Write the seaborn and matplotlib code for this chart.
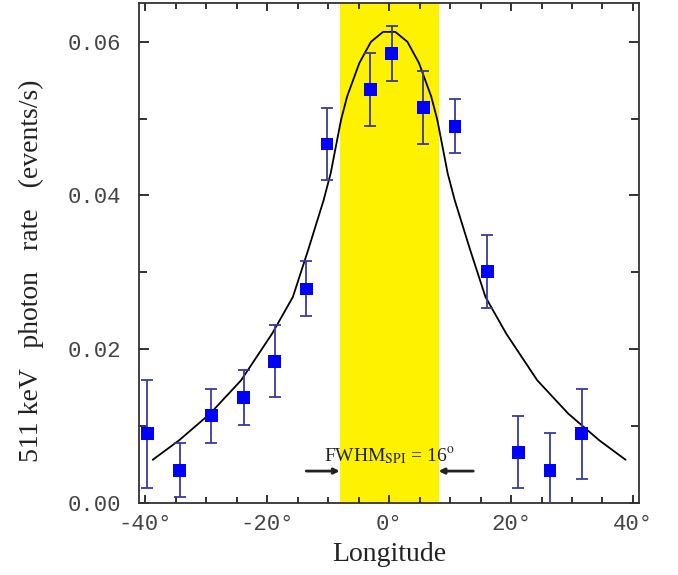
import numpy as np
import pandas as pd
import matplotlib
matplotlib.use('Agg')
import matplotlib.pyplot as plt
import seaborn as sns

# measured points (longitude in degrees, rate in events/s)
lon = [-39.7, -34.4, -29.2, -23.9, -18.8, -13.6, -10.2, -3.1, 0.4, 5.6, 10.8, 16.1, 21.2, 26.4, 31.6]
rate = [0.0090, 0.0042, 0.0113, 0.0137, 0.0184, 0.0278, 0.0467, 0.0538, 0.0585, 0.0514, 0.0490, 0.0301, 0.0065, 0.0042, 0.0090]
rate_lo = [0.0019, 0.0007, 0.0078, 0.0101, 0.0137, 0.0243, 0.0420, 0.0491, 0.0549, 0.0467, 0.0455, 0.0254, 0.0019, -0.0006, 0.0031]
rate_hi = [0.0160, 0.0078, 0.0148, 0.0172, 0.0231, 0.0314, 0.0514, 0.0585, 0.0621, 0.0562, 0.0526, 0.0349, 0.0113, 0.0090, 0.0148]

# model curve (it is symmetric about 0)
curve_lon = [-38.8, -34.5, -29.4, -24.3, -19.2, -15.8, -13.3, -10.75, -9.6, -7.9, -6.9, -4.9, -3.0, -1.0,
             1.0, 3.0, 4.9, 6.9, 7.9, 9.6, 10.75, 13.3, 15.8, 19.2, 24.3, 29.4, 34.5, 38.8]
curve_rate = [0.00557, 0.00809, 0.01157, 0.01592, 0.02201, 0.02678, 0.03288, 0.0394, 0.04288, 0.04984, 0.05288,
              0.05723, 0.0600, 0.0613, 0.0613, 0.0600, 0.05723, 0.05288, 0.04984, 0.04288, 0.0394, 0.03288,
              0.02678, 0.02201, 0.01592, 0.01157, 0.00809, 0.00557]

fwhm_lo, fwhm_hi = -8.1, 8.1
xticks = [-40, -20, 0, 20, 40]
yticks = [0.00, 0.02, 0.04, 0.06]

df = pd.DataFrame({'lon': lon, 'rate': rate, 'lo': rate_lo, 'hi': rate_hi})
model = pd.DataFrame({'lon': curve_lon, 'rate': curve_rate})

sns.set_style('ticks')
plt.rcParams['font.family'] = ['Liberation Serif', 'DejaVu Serif']
plt.rcParams['mathtext.fontset'] = 'stix'

fig = plt.figure(figsize=(6.78, 5.75), dpi=100)
ax = fig.add_axes([0.2055, 0.126, 0.737, 0.868])

# FWHM band
ax.axvspan(fwhm_lo, fwhm_hi, color='#fff200', lw=0, zorder=0)

sns.lineplot(data=model, x='lon', y='rate', color='black', lw=1.3, sort=False, ax=ax, zorder=2)

yerr = [df['rate'] - df['lo'], df['hi'] - df['rate']]
ax.errorbar(df['lon'], df['rate'], yerr=yerr, fmt='none', ecolor='#3a3a9e', elinewidth=1.3,
            capsize=4, capthick=1.3, zorder=3)
sns.scatterplot(data=df, x='lon', y='rate', marker='s', s=85, color='#0000ff', edgecolor='none',
                linewidth=0, ax=ax, zorder=4)

# FWHM annotation
ax.text(0, 0.0061, r'FWHM$_{\mathrm{SPI}}$ = 16$^{\mathrm{o}}$', ha='center', va='center',
        fontsize=14, color='#222222', zorder=5)
ax.annotate('', xy=(fwhm_lo, 0.0041), xytext=(-13.6, 0.0041),
            arrowprops=dict(arrowstyle='-|>', color='#222222', lw=2, mutation_scale=8, shrinkA=0, shrinkB=0))
ax.annotate('', xy=(fwhm_hi, 0.0041), xytext=(13.8, 0.0041),
            arrowprops=dict(arrowstyle='-|>', color='#222222', lw=2, mutation_scale=8, shrinkA=0, shrinkB=0))

ax.set_xlim(-41, 41)
ax.set_ylim(0, 0.065)
ax.set_xticks(xticks)
ax.set_xticks(np.arange(-40, 41, 5), minor=True)
ax.set_yticks(yticks)
ax.set_yticks([0.01, 0.03, 0.05], minor=True)
ax.set_xticklabels([f'{t}\u00b0' for t in xticks])
ax.set_yticklabels([f'{t:.2f}' for t in yticks])

for lab in ax.get_xticklabels() + ax.get_yticklabels():
    lab.set_family('Liberation Mono')
    lab.set_fontsize(16)
    lab.set_color('#444444')

ax.tick_params(axis='both', which='both', direction='in', top=True, right=True, color='#222222')
ax.tick_params(axis='x', which='major', length=5.5, width=1.3, pad=8)
ax.tick_params(axis='x', which='minor', length=4, width=1.3)
ax.tick_params(axis='y', which='major', length=7, width=1.3, pad=13)
ax.tick_params(axis='y', which='minor', length=6, width=1.3)

for sp in ax.spines.values():
    sp.set_linewidth(1.3)
    sp.set_color('#333333')

ax.set_xlabel('Longitude', fontsize=20, color='#222222', labelpad=5)
ax.set_ylabel('511 keV   photon   rate   (events/s)', fontsize=20, color='#222222')
ax.yaxis.set_label_coords(-0.19, 0.464)

fig.savefig('out.png', dpi=100)
